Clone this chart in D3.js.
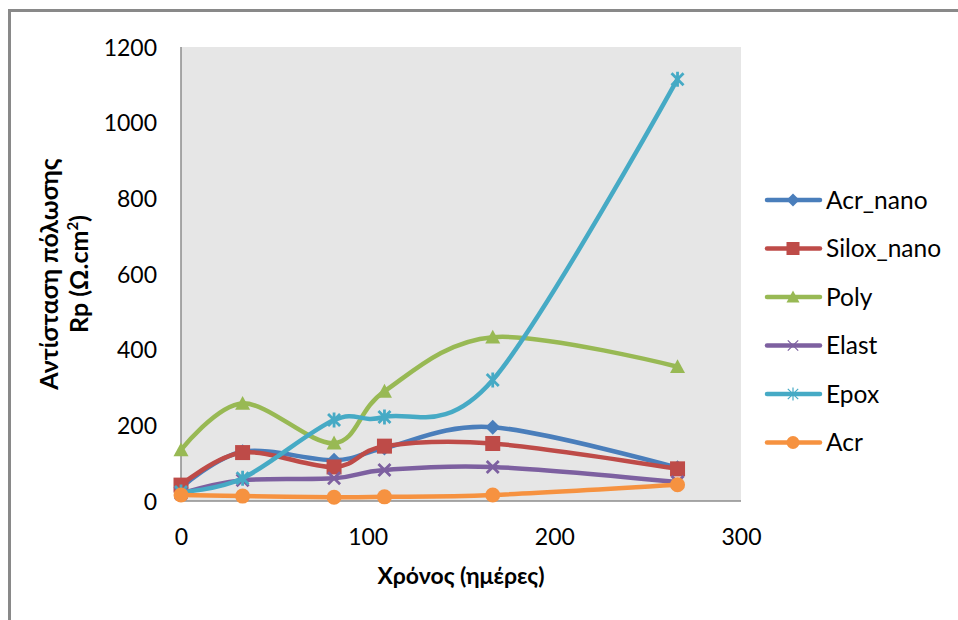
<!DOCTYPE html>
<html>
<head>
<meta charset="utf-8">
<script src="https://cdn.jsdelivr.net/npm/d3@7"></script>
<style>
  html, body { margin: 0; padding: 0; background: #fff; }
  svg { display: block; }
  text { font-family: Lato, "Liberation Sans", sans-serif; fill: #000; }
</style>
</head>
<body>
<svg id="chart" width="958" height="620"></svg>
<script>
// Measurement days
const days = [0, 33, 82, 109, 167, 266];

// Polarisation resistance Rp (Ω.cm²) per coating
const acrNano  = [35, 130, 108, 140, 195, 88];
const siloxNano = [42, 128, 90, 145, 152, 85];
const poly     = [135, 258, 153, 290, 433, 355];
const elast    = [20, 55, 60, 82, 90, 50];
const epox     = [24, 60, 214, 222, 320, 1115];
const acr      = [16, 13, 10, 11, 16, 43];

const seriesNames = ["Acr_nano", "Silox_nano", "Poly", "Elast", "Epox", "Acr"];
const seriesValues = [acrNano, siloxNano, poly, elast, epox, acr];
const seriesColors = ["#4A7EBB", "#BE4B48", "#98B954", "#7D60A0", "#46AAC5", "#F69240"];
const seriesMarkers = ["diamond", "square", "triangle", "cross", "star", "circle"];

const yTicks = [0, 200, 400, 600, 800, 1000, 1200];
const xTicks = [0, 100, 200, 300];

const svg = d3.select("#chart");

// outer frame
svg.append("rect")
  .attr("x", 9.5).attr("y", 10.5)
  .attr("width", 980).attr("height", 640)
  .attr("fill", "none").attr("stroke", "#898989").attr("stroke-width", 3);

const plot = { left: 181, top: 47, right: 741, bottom: 501 };

const x = d3.scaleLinear().domain([0, 300]).range([plot.left, plot.right]);
const y = d3.scaleLinear().domain([0, 1200]).range([plot.bottom, plot.top]);

// plot area
svg.append("rect")
  .attr("x", plot.left).attr("y", plot.top)
  .attr("width", plot.right - plot.left).attr("height", plot.bottom - plot.top)
  .attr("fill", "#E6E6E6");

// axis lines
svg.append("line")
  .attr("x1", plot.left).attr("x2", plot.left)
  .attr("y1", plot.top).attr("y2", plot.bottom)
  .attr("stroke", "#8C8C8C").attr("stroke-width", 1.5);
svg.append("line")
  .attr("x1", plot.left).attr("x2", plot.right)
  .attr("y1", plot.bottom).attr("y2", plot.bottom)
  .attr("stroke", "#8C8C8C").attr("stroke-width", 1.5);

// y axis labels
const yAxis = svg.append("g")
  .attr("transform", `translate(${plot.left},0)`)
  .call(d3.axisLeft(y).tickValues(yTicks).tickFormat(d3.format("d")).tickSize(0).tickPadding(24));
yAxis.select(".domain").remove();
yAxis.selectAll("text")
  .style("font-family", "Lato, 'Liberation Sans', sans-serif")
  .style("font-size", "23px").attr("fill", "#000").attr("dy", "0.35em");

// x axis labels
const xAxis = svg.append("g")
  .attr("transform", `translate(0,${plot.bottom})`)
  .call(d3.axisBottom(x).tickValues(xTicks).tickFormat(d3.format("d")).tickSize(0));
xAxis.select(".domain").remove();
xAxis.selectAll("text")
  .style("font-family", "Lato, 'Liberation Sans', sans-serif")
  .style("font-size", "23px").attr("fill", "#000")
  .attr("y", 36).attr("dy", "0.35em");

// axis titles
svg.append("text")
  .attr("x", (plot.left + plot.right) / 2).attr("y", 578)
  .attr("text-anchor", "middle").attr("dominant-baseline", "middle")
  .style("font-size", "23px").style("font-weight", "bold")
  .text("Χρόνος (ημέρες)");

const yTitle = svg.append("text")
  .attr("transform", `translate(0,${(plot.top + plot.bottom) / 2}) rotate(-90)`)
  .attr("text-anchor", "middle")
  .style("font-size", "25px").style("font-weight", "bold");
yTitle.append("tspan").attr("x", 0).attr("y", 58).text("Αντίσταση πόλωσης");
yTitle.append("tspan").attr("x", 0).attr("y", 88)
  .text("Rp (Ω.cm")
  .append("tspan").attr("dy", -10).style("font-size", "15px").text("2");
yTitle.append("tspan").attr("dy", 10).text(")");

// marker drawing
function drawMarker(g, type, color, size, thin) {
  const s = size / 2;
  switch (type) {
    case "diamond":
      g.append("path").attr("d", `M0,${-s}L${s},0L0,${s}L${-s},0Z`).attr("fill", color);
      break;
    case "square":
      g.append("rect").attr("x", -s).attr("y", -s).attr("width", size).attr("height", size)
        .attr("fill", color);
      break;
    case "triangle":
      g.append("path").attr("d", `M0,${-s}L${s},${s * 0.85}L${-s},${s * 0.85}Z`).attr("fill", color);
      break;
    case "circle":
      g.append("circle").attr("r", s).attr("fill", color);
      break;
    case "cross":
      g.append("path").attr("d", `M${-s * 0.8},${-s * 0.8}L${s * 0.8},${s * 0.8}M${-s * 0.8},${s * 0.8}L${s * 0.8},${-s * 0.8}`)
        .attr("stroke", color).attr("stroke-width", thin ? 1.2 : 2.8).attr("fill", "none");
      break;
    case "star":
      g.append("path").attr("d", `M${-s * 0.8},${-s * 0.8}L${s * 0.8},${s * 0.8}M${-s * 0.8},${s * 0.8}L${s * 0.8},${-s * 0.8}M0,${-s}L0,${s}`)
        .attr("stroke", color).attr("stroke-width", thin ? 1.2 : 2.8).attr("fill", "none");
      break;
  }
}

const line = d3.line()
  .x(d => x(d[0]))
  .y(d => y(d[1]))
  .curve(d3.curveCardinal.tension(0));

seriesNames.forEach((name, i) => {
  const pts = days.map((d, j) => [d, seriesValues[i][j]]);
  const g = svg.append("g");
  g.append("path")
    .datum(pts)
    .attr("d", line)
    .attr("fill", "none")
    .attr("stroke", seriesColors[i])
    .attr("stroke-width", 4.5)
    .attr("stroke-linejoin", "round")
    .attr("stroke-linecap", "round");
  pts.forEach(p => {
    const m = g.append("g").attr("transform", `translate(${x(p[0])},${y(p[1])})`);
    drawMarker(m, seriesMarkers[i], seriesColors[i], 15, false);
  });
});

// legend
const legend = svg.append("g");
seriesNames.forEach((name, i) => {
  const cy = 200 + i * 48.5;
  const row = legend.append("g").attr("transform", `translate(0,${cy})`);
  row.append("line")
    .attr("x1", 767).attr("x2", 820).attr("y1", 0).attr("y2", 0)
    .attr("stroke", seriesColors[i]).attr("stroke-width", 4.5).attr("stroke-linecap", "round");
  const m = row.append("g").attr("transform", "translate(793,0)");
  drawMarker(m, seriesMarkers[i], seriesColors[i], 13, true);
  row.append("text")
    .attr("x", 826).attr("y", 0).attr("dy", "0.35em")
    .style("font-size", "24.5px")
    .text(name);
});
</script>
</body>
</html>
